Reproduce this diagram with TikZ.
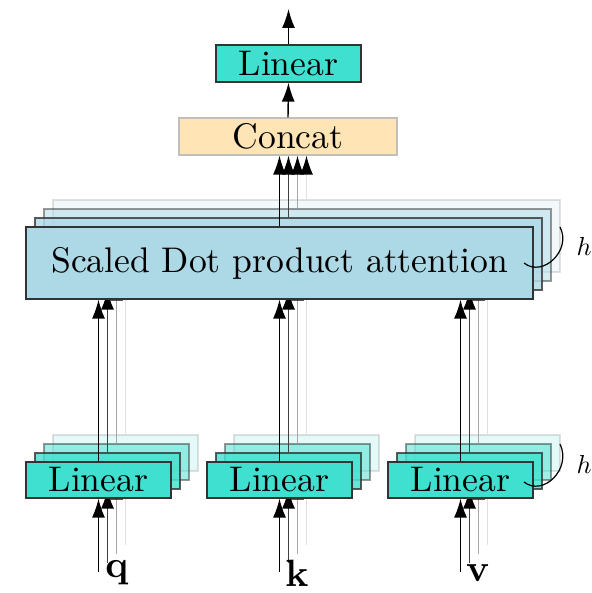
\documentclass[tikz,border=0pt]{standalone}
\usepackage{graphicx}
\usetikzlibrary{arrows.meta}
\definecolor{turq}{RGB}{64,224,208}
\definecolor{attblue}{RGB}{173,216,230}
\definecolor{concatfill}{RGB}{255,228,181}
% text is set at 10pt and enlarged as a whole
\newcommand{\bigtxt}[1]{\scalebox{1.78}{#1}}
\begin{document}
\begin{tikzpicture}[x=0.5pt,y=-0.5pt,
  box/.style={draw=black!80, line width=0.6pt, inner sep=0pt},
  linbox/.style={box, fill=turq, minimum width=72.5pt, minimum height=18pt},
  attbox/.style={box, fill=attblue, minimum width=253.5pt, minimum height=36pt},
  arr/.style={line width=0.7pt, -{Latex[length=9.5pt,width=6.5pt,color=black]}},
  lbl/.style={inner sep=0pt},
  hlbl/.style={inner sep=0pt},
]
\useasboundingbox (0,0) rectangle (592,593);

% output side
\node[box, fill=turq, minimum width=72.5pt, minimum height=18.5pt] (out) at (288.5,63.5) {\bigtxt{Linear}};
\node[box, draw=black!25, fill=concatfill, minimum width=109pt, minimum height=18.5pt] (concat) at (288,136.5) {\bigtxt{Concat}};
\coordinate (top) at (288.5,9);
\draw[arr] (concat.north) -- (out.south);
\draw[arr] (out.north) -- (top);

% the h stacked heads, back to front
\foreach \i/\op/\lc in {3/0.15/12, 2/0.5/35, 1/0.8/75, 0/1/100}{
  \begin{scope}[shift={(9*\i,-9*\i)}, fill opacity=\op, draw opacity=\op]
    \node[attbox] (att\i) at (279.5,263) {\ifnum\i=0 \bigtxt{Scaled Dot product attention}\fi};
    \node[linbox] (lq\i) at (98.5,480) {\ifnum\i=0 \bigtxt{Linear}\fi};
    \node[linbox] (lk\i) at (279.5,480) {\ifnum\i=0 \bigtxt{Linear}\fi};
    \node[linbox] (lv\i) at (460.5,480) {\ifnum\i=0 \bigtxt{Linear}\fi};
  \end{scope}
  \begin{scope}[shift={(9*\i,-9*\i)}]
    \coordinate (iq\i) at ([yshift=-36.5pt]lq\i.south);
    \coordinate (ik\i) at ([yshift=-36.5pt]lk\i.south);
    \coordinate (iv\i) at ([yshift=-36.5pt]lv\i.south);
  \end{scope}
  \foreach \n in {q,k,v}{
    \draw[arr, draw=black!\lc] (i\n\i) -- (l\n\i.south);
    \draw[arr, draw=black!\lc] (l\n\i.north) -- (l\n\i.north |- att\i.south);
  }
  \draw[arr, draw=black!\lc] (att\i.north) -- (att\i.north |- concat.south);
}

% inputs
\node[lbl] (q) at (117,573) {\scalebox{1.9}{$\mathbf{q}$}};
\node[lbl] (k) at (297,573) {\scalebox{1.9}{$\mathbf{k}$}};
\node[lbl] (v) at (478,573) {\scalebox{1.9}{$\mathbf{v}$}};

% head count markers
\coordinate (ha0) at (524,263);
\coordinate (ha1) at (560,227);
\draw[line width=0.6pt] (ha0) .. controls (543,278) and (572,250) .. (ha1);
\node[hlbl] (hatt) at (584,246) {\scalebox{1.3}{$h$}};
\coordinate (hl0) at (524,482);
\coordinate (hl1) at (560,444);
\draw[line width=0.6pt] (hl0) .. controls (543,497) and (572,469) .. (hl1);
\node[hlbl] (hlin) at (584,464) {\scalebox{1.3}{$h$}};
\end{tikzpicture}
\end{document}
